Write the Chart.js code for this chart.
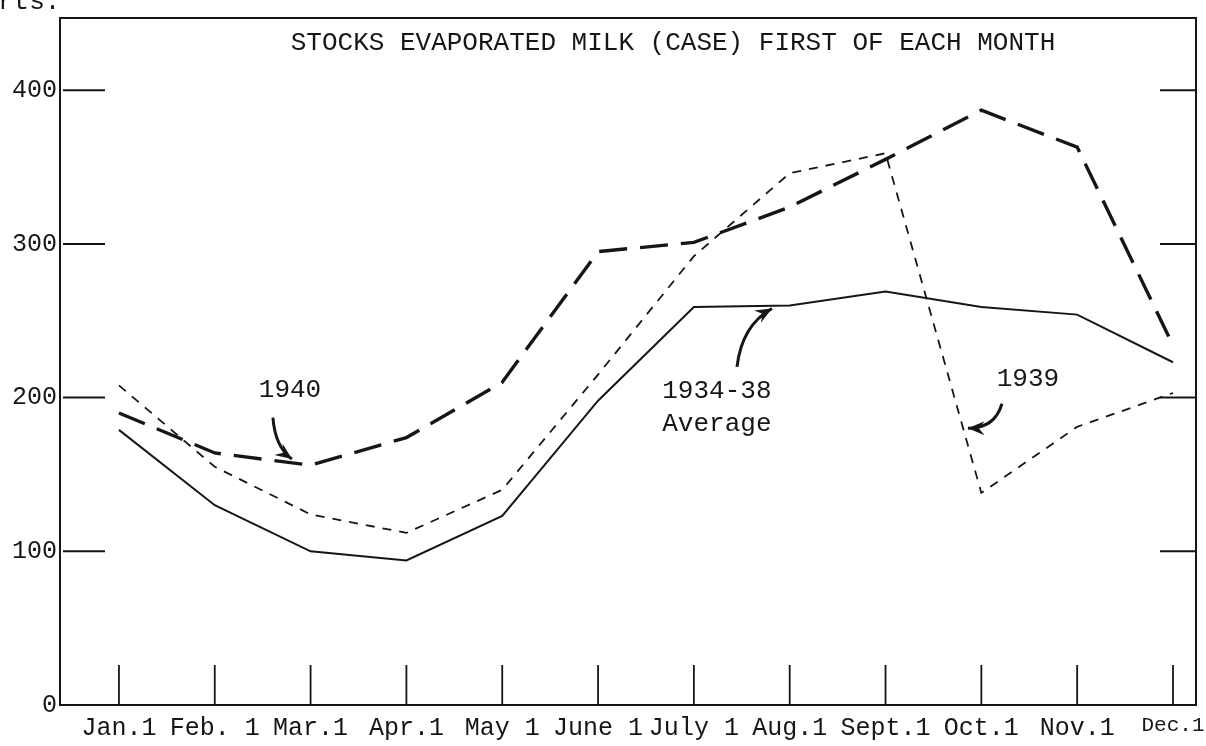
<!DOCTYPE html>
<html>
<head>
<meta charset="utf-8">
<title>Stocks evaporated milk</title>
<script src="https://cdn.jsdelivr.net/npm/chart.js@4.4.1/dist/chart.umd.min.js"></script>
<style>
  html, body { margin: 0; padding: 0; background: #fff; }
</style>
</head>
<body>
<canvas id="chart" width="1206" height="746"></canvas>
<script>
// Months (x axis) and value ticks (y axis)
const months = ['Jan.1', 'Feb. 1', 'Mar.1', 'Apr.1', 'May 1', 'June 1', 'July 1', 'Aug.1', 'Sept.1', 'Oct.1', 'Nov.1', 'Dec.1'];
const yTicks = [0, 100, 200, 300, 400];

// Stocks, first of each month
const average3438 = [179, 130, 100, 94, 123, 198, 259, 260, 269, 259, 254, 223];
const stocks1939 = [208, 155, 124, 112, 140, 215, 292, 346, 359, 138, 181, 203];
const stocks1940 = [190, 164, 156, 174, 210, 295, 301, 324, 355, 387, 363, 234];

// Hand-written labels with their arrows, in data units (month index, value)
const notes = [
    { lines: ['1940'], at: [1.785, 205], arrow: [[1.607, 187], [1.63, 168], [1.805, 160]] },
    { lines: ['1934-38', 'Average'], at: [6.24, 204], arrow: [[6.45, 220], [6.5, 247], [6.815, 258]] },
    { lines: ['1939'], at: [9.486, 212], arrow: [[9.215, 196], [9.14, 180], [8.86, 180]] }
];

const ink = '#161616';
const typeFont = '"Liberation Mono", "DejaVu Sans Mono", monospace';

function toPoints(values) {
    return values.map((v, i) => ({ x: i, y: v }));
}

function drawArrow(ctx, p0, c, p1) {
    ctx.beginPath();
    ctx.moveTo(p0.x, p0.y);
    ctx.quadraticCurveTo(c.x, c.y, p1.x, p1.y);
    ctx.stroke();
    const ang = Math.atan2(p1.y - c.y, p1.x - c.x);
    const len = 18, w = 0.4;
    ctx.beginPath();
    ctx.moveTo(p1.x, p1.y);
    ctx.lineTo(p1.x - len * Math.cos(ang - w), p1.y - len * Math.sin(ang - w));
    ctx.lineTo(p1.x - len * 0.6 * Math.cos(ang), p1.y - len * 0.6 * Math.sin(ang));
    ctx.lineTo(p1.x - len * Math.cos(ang + w), p1.y - len * Math.sin(ang + w));
    ctx.closePath();
    ctx.fill();
}

// Frame, short tick marks, title and notes
const decorPlugin = {
    id: 'decor',
    afterDraw(chart) {
        const { ctx, chartArea: a, scales: { x, y } } = chart;
        ctx.save();
        ctx.strokeStyle = ink;
        ctx.fillStyle = ink;
        ctx.lineWidth = 2;

        // top and right border
        ctx.beginPath();
        ctx.moveTo(a.left, a.top);
        ctx.lineTo(a.right, a.top);
        ctx.lineTo(a.right, a.bottom);
        ctx.stroke();

        // value marks on both sides
        yTicks.forEach(v => {
            if (v === 0) return;
            const py = y.getPixelForValue(v);
            ctx.beginPath();
            ctx.moveTo(a.left + 3, py);
            ctx.lineTo(a.left + 45, py);
            ctx.moveTo(a.right - 36, py);
            ctx.lineTo(a.right, py);
            ctx.stroke();
        });

        // month stubs on the base line
        ctx.lineWidth = 1.8;
        months.forEach((m, i) => {
            const px = x.getPixelForValue(i);
            ctx.beginPath();
            ctx.moveTo(px, a.bottom);
            ctx.lineTo(px, a.bottom - 40);
            ctx.stroke();
        });

        // title
        ctx.font = '26px ' + typeFont;
        ctx.textAlign = 'center';
        ctx.textBaseline = 'middle';
        ctx.fillText('STOCKS EVAPORATED MILK (CASE) FIRST OF EACH MONTH', a.left + 613, a.top + 25);

        // leftover of the page text above
        ctx.textAlign = 'left';
        ctx.textBaseline = 'alphabetic';
        ctx.fillText('rts.', -2, 9);

        // notes
        ctx.textAlign = 'center';
        ctx.textBaseline = 'middle';
        ctx.lineWidth = 3;
        notes.forEach(n => {
            const tx = x.getPixelForValue(n.at[0]);
            const ty = y.getPixelForValue(n.at[1]);
            n.lines.forEach((t, k) => ctx.fillText(t, tx, ty + k * 33));
            const pts = n.arrow.map(p => ({ x: x.getPixelForValue(p[0]), y: y.getPixelForValue(p[1]) }));
            drawArrow(ctx, pts[0], pts[1], pts[2]);
        });
        ctx.restore();
    }
};

const lineBase = {
    borderColor: ink,
    pointRadius: 0,
    tension: 0,
    fill: false,
    borderCapStyle: 'butt'
};

new Chart(document.getElementById('chart'), {
    type: 'line',
    data: {
        datasets: [
            Object.assign({ label: '1934-38 Average', data: toPoints(average3438), borderWidth: 2 }, lineBase),
            Object.assign({ label: '1939', data: toPoints(stocks1939), borderWidth: 1.8, borderDash: [9, 8] }, lineBase),
            Object.assign({ label: '1940', data: toPoints(stocks1940), borderWidth: 3.4, borderDash: [28, 13] }, lineBase)
        ]
    },
    options: {
        responsive: false,
        animation: false,
        layout: { padding: { top: 18, right: 10, left: 0, bottom: 0 } },
        plugins: {
            legend: { display: false },
            tooltip: { enabled: false },
            title: { display: false }
        },
        scales: {
            x: {
                type: 'linear',
                min: -0.615,
                max: 11.24,
                afterBuildTicks: s => { s.ticks = months.map((m, i) => ({ value: i })); },
                afterFit: s => { s.height = 41; s.paddingLeft = 0; s.paddingRight = 0; },
                grid: { display: false, drawTicks: false },
                border: { display: true, color: ink, width: 2 },
                ticks: {
                    callback: v => months[v],
                    autoSkip: false,
                    maxRotation: 0,
                    padding: 8,
                    color: ink,
                    // the last label is squeezed against the page edge
                    font: c => ({ family: typeFont, size: c.index === months.length - 1 ? 21 : 25 })
                }
            },
            y: {
                min: 0,
                max: 447,
                afterBuildTicks: s => { s.ticks = yTicks.map(v => ({ value: v })); },
                afterFit: s => { s.width = 60; s.paddingTop = 0; s.paddingBottom = 0; },
                grid: { display: false, drawTicks: false },
                border: { display: true, color: ink, width: 2 },
                ticks: {
                    autoSkip: false,
                    padding: 3,
                    color: ink,
                    font: { family: typeFont, size: 25 }
                }
            }
        }
    },
    plugins: [decorPlugin]
});
</script>
</body>
</html>
